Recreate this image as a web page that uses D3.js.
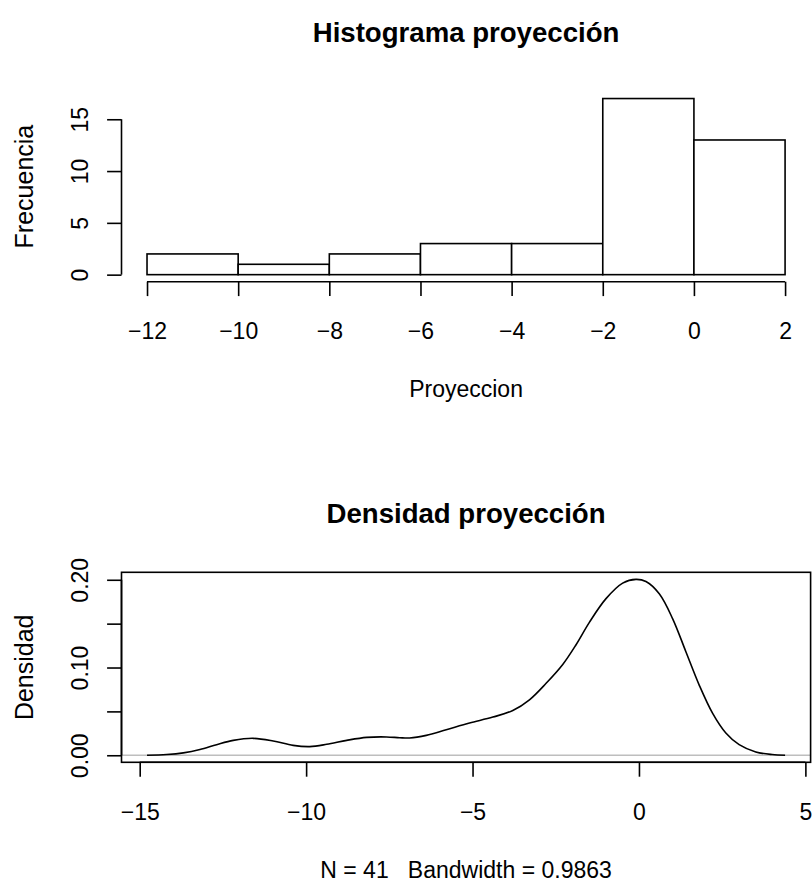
<!DOCTYPE html>
<html>
<head>
<meta charset="utf-8">
<script src="https://cdn.jsdelivr.net/npm/d3@7"></script>
<style>
  body { margin: 0; background: #fff; }
  svg { display: block; font-family: "Liberation Sans", Arial, sans-serif; }
</style>
</head>
<body>
<div id="chart"></div>
<script>
// histograma: cortes y frecuencias
const breaks = [-12, -10, -8, -6, -4, -2, 0, 2];
const counts = [2, 1, 2, 3, 3, 17, 13];
const histXTicks = [-12, -10, -8, -6, -4, -2, 0, 2];
const histYTicks = [0, 5, 10, 15];

// densidad: puntos
const densX = [-14.78, -14.19, -13.69, -13.19, -12.69, -12.19, -11.59, -10.99, -10.39, -9.89,
               -9.38, -8.78, -8.18, -7.58, -7.19, -6.89, -6.39, -5.79, -5.09, -4.39,
               -3.79, -3.29, -2.79, -2.29, -1.89, -1.49, -0.99, -0.49, -0.09, 0.21,
               0.61, 1.01, 1.41, 1.81, 2.21, 2.61, 3.01, 3.51, 4.0, 4.39];
const densY = [0, 0.0008, 0.0027, 0.0065, 0.0121, 0.017, 0.0193, 0.0163, 0.0113, 0.0099,
               0.0125, 0.017, 0.0204, 0.0209, 0.0200, 0.0197, 0.0227, 0.0291, 0.0367, 0.0435,
               0.051, 0.0632, 0.082, 0.1035, 0.1260, 0.1515, 0.1785, 0.1962, 0.2005, 0.198,
               0.184, 0.1558, 0.118, 0.080, 0.048, 0.0254, 0.0121, 0.0038, 0.0008, 0];
const densXTicks = [-15, -10, -5, 0, 5];
const densYTicks = [0, 0.05, 0.10, 0.15, 0.20];
const densYLabels = ["0.00", "", "0.10", "", "0.20"];

const W = 812, H = 885;
const left = 121.5, right = 810.6;
const tick = 14.4;
const fs = 23;
const fsLab = 25;
const lw = 1.6;

// R estira el rango un 4%
function expand(ext) {
    const d = (ext[1] - ext[0]) * 0.04;
    return [ext[0] - d, ext[1] + d];
}
const fmt = v => String(v).replace("-", "\u2212");

const svg = d3.select("#chart").append("svg")
    .attr("width", W).attr("height", H);
svg.append("rect").attr("width", W).attr("height", H).attr("fill", "#fff");

// ---------- histograma ----------
const hTop = 91.5, hBot = 281.7;
const xH = d3.scaleLinear().domain(expand([breaks[0], breaks[breaks.length - 1]])).range([left, right]);
const yH = d3.scaleLinear().domain(expand([0, d3.max(counts)])).range([hBot, hTop]);

svg.append("g").selectAll("rect")
    .data(counts)
    .enter().append("rect")
    .attr("x", (d, i) => xH(breaks[i]))
    .attr("y", d => yH(d))
    .attr("width", (d, i) => xH(breaks[i + 1]) - xH(breaks[i]))
    .attr("height", d => yH(0) - yH(d))
    .attr("fill", "#fff")
    .attr("stroke", "#000")
    .attr("stroke-width", lw);

function bottomAxis(g, x, ticks, fmtFn, yPos) {
    const ax = g.append("g").attr("transform", `translate(0,${yPos})`)
        .call(d3.axisBottom(x).tickValues(ticks).tickSize(tick).tickFormat(fmtFn));
    ax.select(".domain").remove();
    ax.append("line")
        .attr("x1", x(ticks[0])).attr("x2", x(ticks[ticks.length - 1]))
        .attr("stroke", "#000").attr("stroke-width", lw);
    ax.selectAll("line").attr("stroke", "#000").attr("stroke-width", lw);
    ax.selectAll("text")
        .attr("y", 57.6).attr("dy", null)
        .attr("fill", "#000")
        .style("font-size", fs + "px")
        .style("font-family", "Liberation Sans, Arial, sans-serif");
}

function leftAxis(g, y, ticks, fmtFn) {
    const ax = g.append("g").attr("transform", `translate(${left},0)`)
        .call(d3.axisLeft(y).tickValues(ticks).tickSize(tick).tickFormat(fmtFn));
    ax.select(".domain").remove();
    ax.append("line")
        .attr("y1", y(ticks[0])).attr("y2", y(ticks[ticks.length - 1]))
        .attr("stroke", "#000").attr("stroke-width", lw);
    ax.selectAll("line").attr("stroke", "#000").attr("stroke-width", lw);
    ax.selectAll("text")
        .attr("x", null).attr("dy", null)
        .attr("transform", "translate(-33.2,0) rotate(-90)")
        .attr("text-anchor", "middle")
        .attr("fill", "#000")
        .style("font-size", fs + "px")
        .style("font-family", "Liberation Sans, Arial, sans-serif");
}

bottomAxis(svg, xH, histXTicks, fmt, hBot);
leftAxis(svg, yH, histYTicks, fmt);

svg.append("text")
    .attr("x", (left + right) / 2).attr("y", 41.7)
    .attr("text-anchor", "middle")
    .style("font-size", (fs * 1.2) + "px").style("font-weight", "bold")
    .text("Histograma proyección");
svg.append("text")
    .attr("x", (left + right) / 2).attr("y", hBot + 115.2)
    .attr("text-anchor", "middle")
    .style("font-size", fs + "px")
    .text("Proyeccion");
svg.append("text")
    .attr("transform", `translate(33.3,${(hTop + hBot) / 2}) rotate(-90)`)
    .attr("text-anchor", "middle")
    .style("font-size", fsLab + "px")
    .text("Frecuencia");

// ---------- densidad ----------
const dTop = 572.3, dBot = 762.3;
const xD = d3.scaleLinear().domain(expand(d3.extent(densX))).range([left, right]);
const yD = d3.scaleLinear().domain(expand([0, d3.max(densY)])).range([dBot, dTop]);
const pts = densX.map((x, i) => [x, densY[i]]);

svg.append("line")
    .attr("x1", left).attr("x2", right)
    .attr("y1", yD(0)).attr("y2", yD(0))
    .attr("stroke", "#bebebe").attr("stroke-width", lw);

svg.append("path")
    .datum(pts)
    .attr("fill", "none")
    .attr("stroke", "#000")
    .attr("stroke-width", lw)
    .attr("d", d3.line()
        .x(d => xD(d[0]))
        .y(d => yD(d[1]))
        .curve(d3.curveCatmullRom.alpha(0.5)));

svg.append("rect")
    .attr("x", left).attr("y", dTop)
    .attr("width", right - left).attr("height", dBot - dTop)
    .attr("fill", "none").attr("stroke", "#000").attr("stroke-width", lw);

bottomAxis(svg, xD, densXTicks, fmt, dBot);
leftAxis(svg, yD, densYTicks, (d, i) => densYLabels[i]);

svg.append("text")
    .attr("x", (left + right) / 2).attr("y", dTop - 49.8)
    .attr("text-anchor", "middle")
    .style("font-size", (fs * 1.2) + "px").style("font-weight", "bold")
    .text("Densidad proyección");
svg.append("text")
    .attr("x", (left + right) / 2).attr("y", dBot + 115.2)
    .attr("text-anchor", "middle")
    .attr("xml:space", "preserve")
    .style("font-size", fs + "px")
    .style("white-space", "pre")
    .text("N = 41   Bandwidth = 0.9863");
svg.append("text")
    .attr("transform", `translate(33.3,${(dTop + dBot) / 2}) rotate(-90)`)
    .attr("text-anchor", "middle")
    .style("font-size", fsLab + "px")
    .text("Densidad");
</script>
</body>
</html>
